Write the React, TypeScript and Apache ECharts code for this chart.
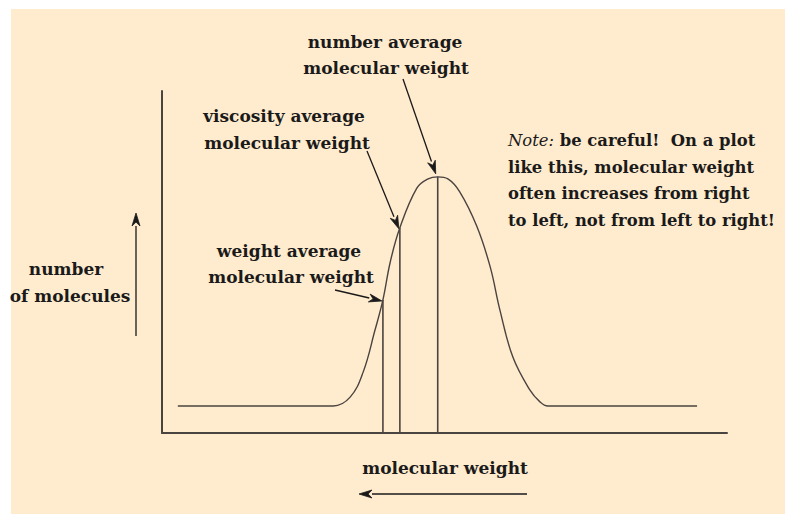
import React, { useEffect, useRef } from "react";
import * as echarts from "echarts";

// Distribution curve (x: molecular weight axis units, y: number of molecules)
const curveX = [2.8, 29.0, 30.3, 33.3, 35.6, 37.7, 39.1, 40.4, 42.1, 45.1, 47.1, 48.8, 50.6, 52.7, 55.7, 58.1, 59.8, 62.1, 65.1, 66.9, 68.3, 69.5, 94.7];
const curveY = [7.9, 7.9, 7.9, 10.5, 17.8, 30.1, 38.9, 50.0, 60.0, 71.6, 74.3, 74.9, 74.3, 70.5, 60.5, 48.5, 36.0, 22.2, 12.6, 9.1, 7.9, 7.9, 7.9];

// Averages: position and curve height
const averageNames = ["weight average", "viscosity average", "number average"];
const averageX = [39.1, 42.1, 48.8];
const averageY = [38.9, 60.0, 74.9];

const noteLines = ["be careful!  On a plot", "like this, molecular weight", "often increases from right", "to left, not from left to right!"];

const FONT = "DejaVu Serif";
const FS = 17;
const NFS = 16.4;
const INK = "#1a1a1a";
const LINE = "#4a4440";

function arrow(x1: number, y1: number, x2: number, y2: number, len = 13, half = 4) {
  const dx = x2 - x1, dy = y2 - y1;
  const d = Math.hypot(dx, dy) || 1;
  const ux = dx / d, uy = dy / d;
  const bx = x2 - ux * len, by = y2 - uy * len;
  const nx = -uy, ny = ux;
  return [
    { type: "line", shape: { x1, y1, x2: bx, y2: by }, style: { stroke: INK, lineWidth: 1.3 }, silent: true },
    {
      type: "polygon",
      shape: { points: [[x2, y2], [bx + nx * half, by + ny * half], [x2 - ux * len * 0.7, y2 - uy * len * 0.7], [bx - nx * half, by - ny * half]] },
      style: { fill: INK, stroke: INK, lineWidth: 0.8 },
      silent: true,
    },
  ];
}

function txt(text: string, x: number, y: number, align = "center", size = FS) {
  return {
    type: "text",
    x, y,
    style: { text, x: 0, y: 0, align, verticalAlign: "middle", font: `bold ${size}px "${FONT}"`, fill: INK },
    silent: true,
  };
}

export default function App() {
  const ref = useRef<HTMLDivElement>(null);
  useEffect(() => {
    if (!ref.current) return;
    const chart = echarts.init(ref.current, undefined, { renderer: "svg" });
    const curve = curveX.map((x, i) => [x, curveY[i]]);
    const verticals = averageX.map((x, i) => ({
      type: "line",
      name: averageNames[i],
      data: [[x, 0], [x, averageY[i]]],
      symbol: "none",
      lineStyle: { color: LINE, width: 1.6 },
      z: 3,
    }));
    chart.setOption({
      animation: false,
      backgroundColor: "#ffffff",
      grid: { left: 162, top: 91, right: 58, bottom: 81 },
      xAxis: {
        type: "value", min: 0, max: 100,
        axisLine: { show: true, onZero: false, lineStyle: { color: LINE, width: 2 } },
        axisTick: { show: false }, axisLabel: { show: false }, splitLine: { show: false },
      },
      yAxis: {
        type: "value", min: 0, max: 100,
        axisLine: { show: true, onZero: false, lineStyle: { color: LINE, width: 2 } },
        axisTick: { show: false }, axisLabel: { show: false }, splitLine: { show: false },
      },
      series: [
        {
          type: "line",
          name: "distribution",
          data: curve,
          symbol: "none",
          smooth: 0.4,
          lineStyle: { color: LINE, width: 1.4 },
          z: 2,
        },
        ...verticals,
      ],
    });

    const px = (x: number, y: number) => chart.convertToPixel({ gridIndex: 0 }, [x, y]) as number[];
    const tipW = px(averageX[0], averageY[0]);
    const tipV = px(averageX[1], averageY[1]);
    const tipN = px(averageX[2], averageY[2]);

    const graphics: any[] = [
      { type: "rect", shape: { x: 11, y: 9, width: 785 - 11, height: 514 - 9 }, style: { fill: "#FFEBCD" }, z: -10, silent: true },
      txt("number average", 385, 42),
      txt("molecular weight", 386, 68),
      ...arrow(403, 79, tipN[0] - 2, tipN[1] - 3),
      txt("viscosity average", 284, 116),
      txt("molecular weight", 287, 143),
      ...arrow(367, 151, tipV[0] - 1, tipV[1] + 1),
      txt("weight average", 289, 251),
      txt("molecular weight", 291, 277),
      ...arrow(335, 290, tipW[0] - 1, tipW[1] + 1),
      txt("number", 66, 269),
      txt("of molecules", 70, 296),
      ...arrow(136, 336, 136, 213),
      txt("molecular weight", 445, 468),
      ...arrow(527, 494, 359, 494),
      {
        type: "text",
        x: 508, y: 140,
        style: {
          text: "{i|Note:} " + noteLines[0],
          x: 0, y: 0, verticalAlign: "middle",
          font: `bold ${NFS}px "${FONT}"`, fill: INK,
          rich: { i: { font: `italic ${NFS}px "${FONT}"`, fill: INK } },
        },
        silent: true,
      },
      txt(noteLines[1], 508, 167, "left", NFS),
      txt(noteLines[2], 508, 193, "left", NFS),
      txt(noteLines[3], 508, 220, "left", NFS),
    ];
    chart.setOption({ graphic: graphics });
    return () => chart.dispose();
  }, []);
  return (
    <div style={{ position: "fixed", left: 0, top: 0, width: 785, height: 514, background: "#fff" }}>
      <div ref={ref} style={{ width: 785, height: 514 }} />
    </div>
  );
}
